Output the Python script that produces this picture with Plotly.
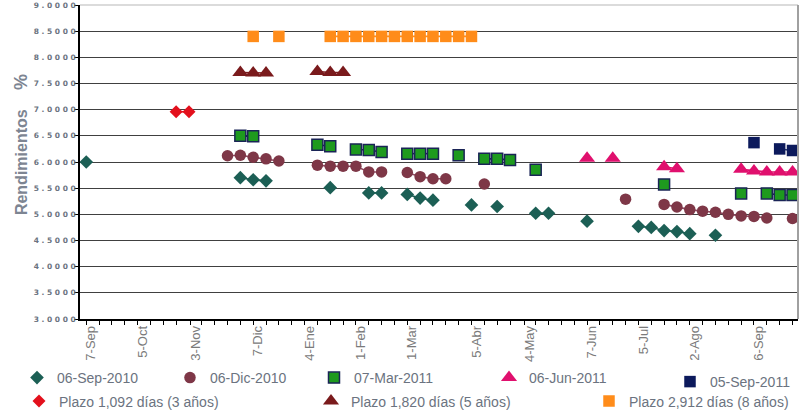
import plotly.graph_objects as go
from datetime import date, timedelta

# ---------------- data ----------------
s_sep10_dates = ["2010-09-07", "2010-11-30", "2010-12-07", "2010-12-14", "2011-01-18", "2011-02-08",
                 "2011-02-15", "2011-03-01", "2011-03-08", "2011-03-15", "2011-04-05", "2011-04-19",
                 "2011-05-10", "2011-05-17", "2011-06-07", "2011-07-05", "2011-07-12", "2011-07-19",
                 "2011-07-26", "2011-08-02", "2011-08-16"]
s_sep10_vals = [6.00, 5.70, 5.66, 5.64, 5.51, 5.41, 5.41, 5.38, 5.31, 5.27, 5.18, 5.15,
                5.02, 5.02, 4.87, 4.77, 4.75, 4.69, 4.67, 4.63, 4.60]

s_dic10_dates = ["2010-11-23", "2010-11-30", "2010-12-07", "2010-12-14", "2010-12-21", "2011-01-11",
                 "2011-01-18", "2011-01-25", "2011-02-01", "2011-02-08", "2011-02-15", "2011-03-01",
                 "2011-03-08", "2011-03-15", "2011-03-22", "2011-04-12", "2011-06-28", "2011-07-19",
                 "2011-07-26", "2011-08-02", "2011-08-09", "2011-08-16", "2011-08-23", "2011-08-30",
                 "2011-09-06", "2011-09-13", "2011-09-27"]
s_dic10_vals = [6.12, 6.13, 6.09, 6.06, 6.02, 5.94, 5.92, 5.92, 5.92, 5.81, 5.81, 5.80,
                5.72, 5.68, 5.68, 5.58, 5.29, 5.19, 5.14, 5.09, 5.06, 5.04, 5.00, 4.97,
                4.96, 4.93, 4.92]

s_mar11_dates = ["2010-11-30", "2010-12-07", "2011-01-11", "2011-01-18", "2011-02-01", "2011-02-08",
                 "2011-02-15", "2011-03-01", "2011-03-08", "2011-03-15", "2011-03-29", "2011-04-12",
                 "2011-04-19", "2011-04-26", "2011-05-10", "2011-07-19", "2011-08-30", "2011-09-13",
                 "2011-09-20", "2011-09-27"]
s_mar11_vals = [6.50, 6.49, 6.33, 6.30, 6.24, 6.23, 6.19, 6.16, 6.16, 6.16, 6.13, 6.06,
                6.06, 6.04, 5.85, 5.57, 5.40, 5.40, 5.37, 5.37]

s_jun11_dates = ["2011-06-07", "2011-06-21", "2011-07-19", "2011-07-26", "2011-08-30", "2011-09-06",
                 "2011-09-13", "2011-09-20", "2011-09-27"]
s_jun11_vals = [6.07, 6.07, 5.91, 5.87, 5.86, 5.83, 5.81, 5.81, 5.81]

s_sep11_dates = ["2011-09-06", "2011-09-20", "2011-09-27"]
s_sep11_vals = [6.37, 6.25, 6.22]

p3_dates = ["2010-10-26", "2010-11-02"]
p3_vals = [6.96, 6.96]

p5_dates = ["2010-11-30", "2010-12-07", "2010-12-14", "2011-01-11", "2011-01-18", "2011-01-25"]
p5_vals = [7.71, 7.70, 7.70, 7.73, 7.71, 7.71]

p8_dates = ["2010-12-07", "2010-12-21", "2011-01-18", "2011-01-25", "2011-02-01", "2011-02-08",
            "2011-02-15", "2011-02-22", "2011-03-01", "2011-03-08", "2011-03-15", "2011-03-22",
            "2011-03-29", "2011-04-05"]
p8_vals = [8.40] * 14

label_dates = ["2010-09-07", "2010-10-05", "2010-11-03", "2010-12-07", "2011-01-04", "2011-02-01",
               "2011-03-01", "2011-04-05", "2011-05-04", "2011-06-07", "2011-07-05", "2011-08-02",
               "2011-09-06"]
label_texts = ["7-Sep", "5-Oct", "3-Nov", "7-Dic", "4-Ene", "1-Feb", "1-Mar", "5-Abr", "4-May",
               "7-Jun", "5-Jul", "2-Ago", "6-Sep"]

y_ticks = [3.0, 3.5, 4.0, 4.5, 5.0, 5.5, 6.0, 6.5, 7.0, 7.5, 8.0, 8.5, 9.0]


def with_gaps(ds, vs):
    """Insert None where consecutive weekly observations are missing."""
    xs, ys = [], []
    prev = None
    for d, v in zip(ds, vs):
        cur = date.fromisoformat(d)
        if prev is not None and (cur - prev).days > 7:
            xs.append(None)
            ys.append(None)
        xs.append(d)
        ys.append(v)
        prev = cur
    return xs, ys


start = date(2010, 9, 7)
label_map = {date.fromisoformat(d): t for d, t in zip(label_dates, label_texts)}
tickvals, ticktext = [], []
for i in range(56):
    d = start + timedelta(days=7 * i)
    lab = ""
    for ld, t in label_map.items():
        if abs((ld - d).days) <= 1:
            d, lab = ld, t
    tickvals.append(d.isoformat())
    ticktext.append(lab)

series = [
    ("06-Sep-2010", s_sep10_dates, s_sep10_vals, "diamond", 10.5, "#1c5f55", "#1c5f55", "#1c5f55", "legend"),
    ("06-Dic-2010", s_dic10_dates, s_dic10_vals, "circle", 11.5, "#7e3747", "#8e4a62", "#7e3747", "legend2"),
    ("07-Mar-2011", s_mar11_dates, s_mar11_vals, "square", 11, "#1e9a1e", "#1a2456", "#1a2456", "legend3"),
    ("06-Jun-2011", s_jun11_dates, s_jun11_vals, "triangle-up", 14, "#e0106e", "#e0106e", "#e0106e", "legend4"),
    ("05-Sep-2011", s_sep11_dates, s_sep11_vals, "square", 11.5, "#0c1a5c", "#2a3a70", "#0c1a5c", "legend5"),
    ("Plazo 1,092 días (3 años)", p3_dates, p3_vals, "diamond", 10, "#e3101c", "#e3101c", "#e3101c", "legend6"),
    ("Plazo 1,820 días (5 años)", p5_dates, p5_vals, "triangle-up", 14, "#7a1a1c", "#7a1a1c", "#7a1a1c", "legend7"),
    ("Plazo 2,912 días (8 años)", p8_dates, p8_vals, "square", 11.5, "#ff8c1a", "#ff8c1a", "#ff8c1a", "legend8"),
]

fig = go.Figure()

for name, ds, vs, sym, sz, fill, lc, bc, lg in series:
    xs, ys = with_gaps(ds, vs)
    fig.add_trace(go.Scatter(x=xs, y=ys, mode="lines", line=dict(color=lc, width=1.6),
                             connectgaps=False, showlegend=False, hoverinfo="skip"))

for name, ds, vs, sym, sz, fill, lc, bc, lg in series:
    bw = 1.5 if bc != fill else 0
    fig.add_trace(go.Scatter(x=ds, y=vs, mode="markers", name=name, legend=lg,
                             marker=dict(symbol=sym, size=sz, color=fill,
                                         line=dict(color=bc, width=bw))))

W, H = 812, 410
legend_font = dict(family="Liberation Sans, Arial, sans-serif", size=14, color="#6b7380")
legend_pos = {
    "legend": (17, 378), "legend2": (170, 378), "legend3": (314, 378), "legend4": (489, 378),
    "legend5": (670, 382), "legend6": (19, 401.5), "legend7": (311, 401.5), "legend8": (589, 401.5),
}
legend_layout = {}
for key, (px, py) in legend_pos.items():
    legend_layout[key] = dict(x=px / W, y=1 - py / H, xref="container", yref="container",
                              xanchor="left", yanchor="middle", bgcolor="rgba(0,0,0,0)",
                              borderwidth=0, font=legend_font, tracegroupgap=0,
                              itemclick=False, itemdoubleclick=False)

fig.update_layout(
    width=W, height=H,
    margin=dict(l=80, r=14, t=5, b=91, autoexpand=False),
    paper_bgcolor="white", plot_bgcolor="white",
    showlegend=True,
    **legend_layout,
)

fig.update_xaxes(
    type="date",
    range=["2010-09-03 14:00", "2011-09-30 00:00"],
    tickmode="array", tickvals=tickvals, ticktext=ticktext,
    tickangle=-90, ticks="outside", ticklen=4, tickcolor="black", tickwidth=1,
    ticklabelshift=5, ticklabelstandoff=-4,
    tickfont=dict(family="Liberation Sans, Arial, sans-serif", size=13, color="#7a7a7a"),
    showline=True, linecolor="black", linewidth=1.5,
    showgrid=False, zeroline=False, automargin=False,
)

fig.update_yaxes(
    range=[3, 9],
    tickmode="array", tickvals=y_ticks,
    ticktext=[" ".join(f"{v:.4f}") for v in y_ticks],
    ticks="outside", ticklen=4, tickcolor="black",
    ticklabelstandoff=-3,
    tickfont=dict(family="DejaVu Sans, sans-serif", size=7.5, color="#6b7380", weight="bold"),
    showline=True, linecolor="black", linewidth=1.5,
    showgrid=True, gridcolor="#404040", gridwidth=1.2,
    zeroline=False, automargin=False,
)

fig.add_shape(type="line", xref="paper", yref="paper", x0=0, x1=1, y0=1, y1=1,
              line=dict(color="#b8b8b8", width=1.2), layer="above")
fig.add_shape(type="line", xref="paper", yref="paper", x0=1, x1=1, y0=0, y1=1,
              line=dict(color="#a0a0a0", width=2), layer="above")

fig.add_annotation(text="Rendimientos", xref="paper", yref="paper", x=-0.082, y=0.5,
                   xanchor="center", yanchor="middle", showarrow=False, textangle=-90,
                   font=dict(family="Liberation Sans, Arial, sans-serif", size=16,
                             color="#7d8592", weight="bold"))
fig.add_annotation(text="%", xref="paper", yref="paper", x=-0.082, y=0.755,
                   xanchor="center", yanchor="middle", showarrow=False, textangle=-90,
                   font=dict(family="Liberation Sans, Arial, sans-serif", size=18,
                             color="#7d8592", weight="bold"))

fig.write_html("out.html", config={"displayModeBar": False},
               post_script="document.body.style.margin='0px';")
